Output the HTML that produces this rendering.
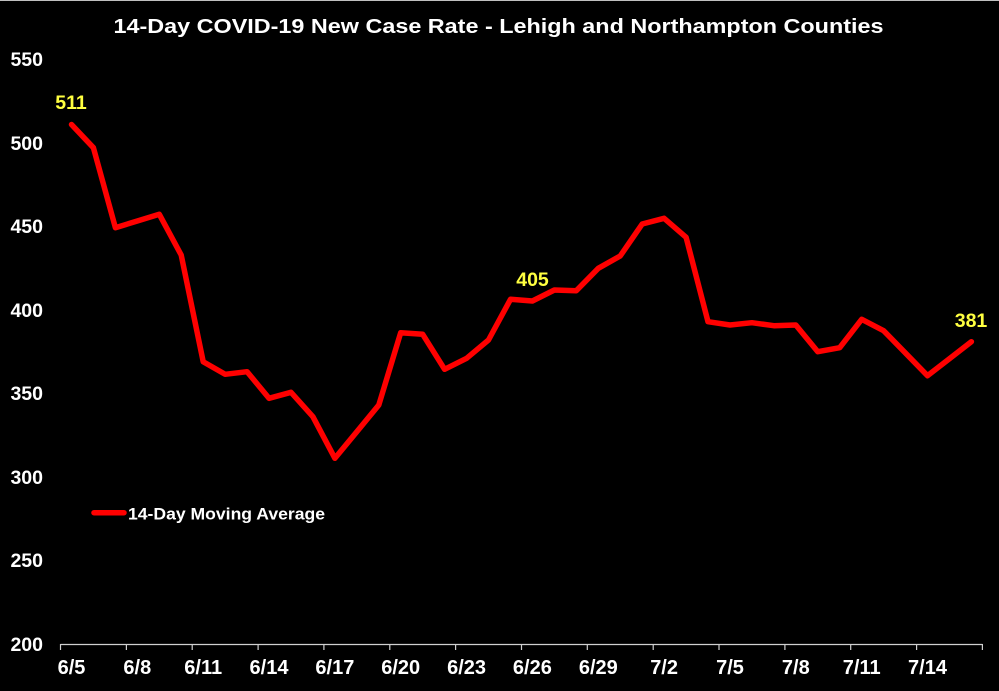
<!DOCTYPE html>
<html>
<head>
<meta charset="utf-8">
<style>
  html,body{margin:0;padding:0;background:#000;}
  svg{display:block;}
  text{font-family:"Liberation Sans",Arial,sans-serif;font-weight:bold;}
</style>
</head>
<body>
<svg width="999" height="691" viewBox="0 0 999 691" xmlns="http://www.w3.org/2000/svg">
  <rect x="0" y="0" width="999" height="691" fill="#000"/>
  <rect x="0" y="0" width="999" height="1" fill="#bfbfbf"/>

  <!-- Title -->
  <text x="113.5" y="33" font-size="20.5" fill="#fff" textLength="770" lengthAdjust="spacingAndGlyphs">14-Day COVID-19 New Case Rate - Lehigh and Northampton Counties</text>

  <!-- Y axis labels -->
  <g font-size="19.5" fill="#fff" text-anchor="end">
    <text x="43" y="66">550</text>
    <text x="43" y="150">500</text>
    <text x="43" y="233">450</text>
    <text x="43" y="317">400</text>
    <text x="43" y="400">350</text>
    <text x="43" y="484">300</text>
    <text x="43" y="567">250</text>
    <text x="43" y="651">200</text>
  </g>

  <!-- X axis -->
  <line x1="60.5" y1="644.5" x2="982.5" y2="644.5" stroke="#d0d0d0" stroke-width="1.2"/>
  <g stroke="#d0d0d0" stroke-width="1.2">
    <line x1="60.5" y1="644" x2="60.5" y2="650"/>
    <line x1="126.4" y1="644" x2="126.4" y2="650"/>
    <line x1="192.2" y1="644" x2="192.2" y2="650"/>
    <line x1="258.1" y1="644" x2="258.1" y2="650"/>
    <line x1="323.9" y1="644" x2="323.9" y2="650"/>
    <line x1="389.8" y1="644" x2="389.8" y2="650"/>
    <line x1="455.6" y1="644" x2="455.6" y2="650"/>
    <line x1="521.5" y1="644" x2="521.5" y2="650"/>
    <line x1="587.3" y1="644" x2="587.3" y2="650"/>
    <line x1="653.2" y1="644" x2="653.2" y2="650"/>
    <line x1="719.0" y1="644" x2="719.0" y2="650"/>
    <line x1="784.9" y1="644" x2="784.9" y2="650"/>
    <line x1="850.7" y1="644" x2="850.7" y2="650"/>
    <line x1="916.6" y1="644" x2="916.6" y2="650"/>
    <line x1="982.4" y1="644" x2="982.4" y2="650"/>
  </g>
  <g font-size="20" fill="#fff" text-anchor="middle">
    <text x="71.5" y="674">6/5</text>
    <text x="137.3" y="674">6/8</text>
    <text x="203.2" y="674">6/11</text>
    <text x="269" y="674">6/14</text>
    <text x="334.9" y="674">6/17</text>
    <text x="400.7" y="674">6/20</text>
    <text x="466.6" y="674">6/23</text>
    <text x="532.4" y="674">6/26</text>
    <text x="598.3" y="674">6/29</text>
    <text x="664.1" y="674">7/2</text>
    <text x="730" y="674">7/5</text>
    <text x="795.8" y="674">7/8</text>
    <text x="861.7" y="674">7/11</text>
    <text x="927.5" y="674">7/14</text>
  </g>

  <!-- Series -->
  <polyline fill="none" stroke="#ff0000" stroke-width="5.5" stroke-linejoin="round" stroke-linecap="round"
    points="71.5,124.5 93.4,147.7 115.4,227.7 137.3,221 159.3,214.3 181.2,255 203.2,361.7 225.1,374.3 247.1,371.7 269,398.3 291,392.3 312.9,416.7 334.9,458.3 356.8,431.7 378.8,405 400.7,332.7 422.7,334.3 444.6,369.3 466.6,358.3 488.5,340 510.5,299.3 532.4,301 554.4,290 576.3,290.7 598.3,268.3 620.2,256 642.2,224 664.1,218.3 686.1,237.3 708,321.7 730,325 751.9,322.7 773.9,325.7 795.8,325 817.8,351.7 839.7,347.7 861.7,319.3 883.6,330.7 905.6,353.2 927.5,375.7 949.5,358.7 971.4,341.7"/>

  <!-- Data labels -->
  <g font-size="19.5" fill="#ffff40" text-anchor="middle">
    <text x="71" y="109">511</text>
    <text x="532.5" y="286">405</text>
    <text x="971" y="327">381</text>
  </g>

  <!-- Legend -->
  <line x1="94" y1="512.7" x2="124" y2="512.7" stroke="#ff0000" stroke-width="5.5" stroke-linecap="round"/>
  <text x="128" y="519.5" font-size="17" fill="#fff" textLength="197" lengthAdjust="spacingAndGlyphs">14-Day Moving Average</text>
</svg>
</body>
</html>
